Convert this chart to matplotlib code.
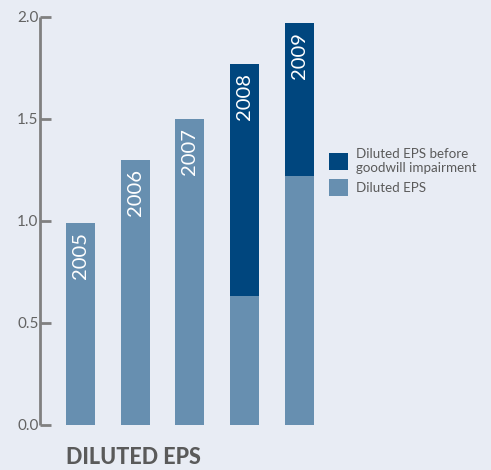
import matplotlib
matplotlib.use("Agg")
import matplotlib.pyplot as plt

years = ["2005", "2006", "2007", "2008", "2009"]
diluted_eps = [0.99, 1.30, 1.50, 0.63, 1.22]
eps_before_impairment = [0.99, 1.30, 1.50, 1.77, 1.97]
y_ticks = [0.0, 0.5, 1.0, 1.5, 2.0]
y_tick_labels = ["0.0", "0.5", "1.0", "1.5", "2.0"]
legend_labels = ["Diluted EPS before\ngoodwill impairment", "Diluted EPS"]
title = "DILUTED EPS"

BG = "#e8ecf4"
LIGHT = "#678fb0"
DARK = "#00467e"
AXIS = "#808080"
TEXT = "#5a5a5a"

plt.rcParams["font.family"] = ["Lato", "DejaVu Sans"]

fig = plt.figure(figsize=(4.91, 4.70), dpi=100, facecolor=BG)
ax = fig.add_axes([40 / 491, 45 / 470, 292 / 491, 408 / 470], facecolor=BG)

x = list(range(len(years)))
width = 0.53
extra = [b - d for b, d in zip(eps_before_impairment, diluted_eps)]

light_bars = ax.bar(x, diluted_eps, width=width, color=LIGHT, zorder=2)
dark_bars = ax.bar(x, extra, width=width, bottom=diluted_eps, color=DARK, zorder=2)

# Year labels, rotated, hanging from the top of each bar
for xi, yr, top in zip(x, years, eps_before_impairment):
    ax.text(xi, top - 0.045, yr, rotation=90, ha="center", va="top",
            color="white", fontsize=14.5, zorder=3)

ax.set_xlim(-0.74, 4.6)
ax.set_ylim(0, 2.0)
ax.set_yticks(y_ticks)
ax.set_yticklabels(y_tick_labels)
ax.set_xticks([])

for side in ["top", "right", "bottom"]:
    ax.spines[side].set_visible(False)
ax.spines["left"].set_color(AXIS)
ax.spines["left"].set_linewidth(2)
ax.spines["left"].set_capstyle("butt")
ax.tick_params(axis="y", direction="in", length=8, width=2, color=AXIS,
               labelcolor="#636363", labelsize=11, pad=1)

leg = fig.legend([dark_bars[0], light_bars[0]], legend_labels,
                 loc="upper left", bbox_to_anchor=(329 / 491, 1 - 148 / 470),
                 frameon=False, fontsize=9.6, labelcolor=TEXT,
                 handlelength=1.4, handleheight=1.5, handletextpad=0.65,
                 labelspacing=0.4, borderaxespad=0, borderpad=0)

fig.text(66 / 491, 2 / 470, title, ha="left", va="bottom",
         fontsize=15.5, fontweight="black", color=TEXT)

fig.savefig("out.png", dpi=100, facecolor=BG)
